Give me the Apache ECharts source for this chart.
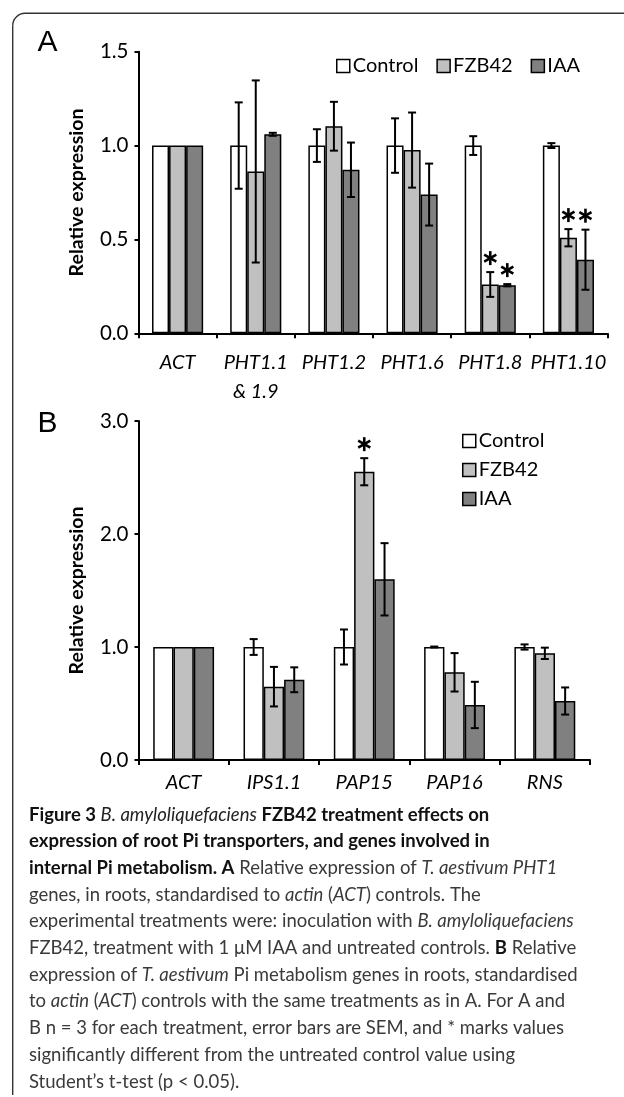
<!DOCTYPE html>
<html>
<head>
<meta charset="utf-8">
<script src="https://cdn.jsdelivr.net/npm/echarts@6/dist/echarts.min.js"></script>
<style>
html,body{margin:0;padding:0;background:#fff;}
#main{width:624px;height:1097px;}
</style>
</head>
<body>
<div id="main"></div>
<script>
// ---- Panel A data ----
const catsA = ['ACT', 'PHT1.1\n& 1.9', 'PHT1.2', 'PHT1.6', 'PHT1.8', 'PHT1.10'];
const ctrlA = [1, 1, 1, 1, 1, 1];
const fzbA  = [1, 0.862, 1.103, 0.976, 0.26, 0.509];
const iaaA  = [1, 1.06, 0.871, 0.739, 0.256, 0.392];
const ctrlErrA = [0, 0.23, 0.087, 0.145, 0.05, 0.013];
const fzbErrA  = [0, 0.485, 0.13, 0.2, 0.066, 0.046];
const iaaErrA  = [0, 0.008, 0.145, 0.165, 0.006, 0.16];
const sigA = [[4, 1], [4, 2], [5, 1], [5, 2]]; // [category, series]
const ticksA = [0, 1.5, 0.5];

// ---- Panel B data ----
const catsB = ['ACT', 'IPS1.1', 'PAP15', 'PAP16', 'RNS'];
const ctrlB = [1, 1, 1, 1, 1];
const fzbB  = [1, 0.649, 2.551, 0.776, 0.944];
const iaaB  = [1, 0.71, 1.599, 0.487, 0.522];
const ctrlErrB = [0, 0.07, 0.155, 0.004, 0.023];
const fzbErrB  = [0, 0.175, 0.12, 0.17, 0.05];
const iaaErrB  = [0, 0.11, 0.32, 0.205, 0.12];
const sigB = [[2, 1]];
const ticksB = [0, 3, 1];

const names = ['Control', 'FZB42', 'IAA'];
const colors = ['#ffffff', '#c0c0c0', '#808080'];

const FONT = 'Lato, "Open Sans", sans-serif';
const GAP_A = 0.346, GAP_B = 0.326;

function errRender(k, gapFrac) {
  return function (params, api) {
    const i = api.value(0), v = api.value(1), e = api.value(2);
    if (!e) return null;
    const catW = api.size([1, 0])[0];
    const w = catW * (1 - gapFrac) / 3;
    const x = api.coord([i, v])[0] + (k - 1) * w;
    const yT = api.coord([i, v + e])[1], yB = api.coord([i, v - e])[1];
    const cap = 4;
    const ls = { stroke: '#000', lineWidth: 2 };
    return { type: 'group', children: [
      { type: 'line', shape: { x1: x, y1: yT, x2: x, y2: yB }, style: ls },
      { type: 'line', shape: { x1: x - cap, y1: yT, x2: x + cap, y2: yT }, style: ls },
      { type: 'line', shape: { x1: x - cap, y1: yB, x2: x + cap, y2: yB }, style: ls }
    ]};
  };
}

function starRender(gapFrac) {
  return function (params, api) {
    const i = api.value(0), v = api.value(1), k = api.value(2);
    const catW = api.size([1, 0])[0];
    const w = catW * (1 - gapFrac) / 3;
    const c = api.coord([i, v]);
    const x = c[0] + (k - 1) * w, y = c[1] - 14;
    const r = 7;
    const ls = { stroke: '#000', lineWidth: 2.6 };
    const ch = [];
    [90, 30, -30].forEach(function (a) {
      const rad = a * Math.PI / 180;
      const dx = r * Math.cos(rad), dy = r * Math.sin(rad);
      ch.push({ type: 'line', shape: { x1: x - dx, y1: y - dy, x2: x + dx, y2: y + dy }, style: ls });
    });
    return { type: 'group', children: ch };
  };
}

function buildSeries(gi, vals, errs, sig, gapFrac) {
  const s = [];
  vals.forEach(function (arr, k) {
    s.push({
      type: 'bar', name: names[k], xAxisIndex: gi, yAxisIndex: gi, data: arr,
      barGap: '0%', barCategoryGap: (gapFrac * 100) + '%',
      itemStyle: { color: colors[k], borderColor: '#000', borderWidth: 1.5 },
      silent: true
    });
  });
  errs.forEach(function (arr, k) {
    s.push({
      type: 'custom', xAxisIndex: gi, yAxisIndex: gi, z: 5, silent: true,
      renderItem: errRender(k, gapFrac),
      encode: { x: 0, y: 1 },
      data: arr.map(function (e, i) { return [i, vals[k][i], e]; })
    });
  });
  s.push({
    type: 'custom', xAxisIndex: gi, yAxisIndex: gi, z: 6, silent: true,
    renderItem: starRender(gapFrac),
    encode: { x: 0, y: 1 },
    data: sig.map(function (p) { const i = p[0], k = p[1]; return [i, vals[k][i] + errs[k][i], k]; })
  });
  return s;
}

function xAxisCfg(gi, cats, margin) {
  return {
    type: 'category', gridIndex: gi, data: cats,
    axisLine: { show: true, lineStyle: { color: '#000', width: 2 } },
    axisTick: { show: true, length: 5, alignWithLabel: false, lineStyle: { color: '#000', width: 2 } },
    axisLabel: { interval: 0, fontStyle: 'italic', fontSize: 20, color: '#000', margin: margin, lineHeight: 29, fontFamily: FONT },
    splitLine: { show: false }
  };
}
function yAxisCfg(gi, t) {
  return {
    type: 'value', gridIndex: gi, min: t[0], max: t[1], interval: t[2],
    axisLine: { show: true, lineStyle: { color: '#000', width: 2 } },
    axisTick: { show: true, length: 4, lineStyle: { color: '#000', width: 2 } },
    axisLabel: { fontSize: 20.5, color: '#000', margin: 10, fontFamily: FONT, formatter: function (v) { return v.toFixed(1); } },
    splitLine: { show: false },
    name: 'Relative expression', nameLocation: 'middle', nameGap: 52,
    nameTextStyle: { fontSize: 19.5, fontWeight: 'bold', color: '#000', fontFamily: FONT }
  };
}

const capLines = [
  '{b|Figure 3 }{bi|B. amyloliquefaciens}{b| FZB42 treatment effects on}',
  '{b|expression of root Pi transporters, and genes involved in}',
  '{b|internal Pi metabolism. A}{n| Relative expression of }{i|T. aestivum PHT1}',
  '{n|genes, in roots, standardised to }{i|actin}{n| (}{i|ACT}{n|) controls. The}',
  '{n|experimental treatments were: inoculation with }{i|B. amyloliquefaciens}',
  '{n|FZB42, treatment with 1 μM IAA and untreated controls. }{b|B}{n| Relative}',
  '{n|expression of }{i|T. aestivum}{n| Pi metabolism genes in roots, standardised}',
  '{n|to }{i|actin}{n| (}{i|ACT}{n|) controls with the same treatments as in A. For A and}',
  '{n|B n = 3 for each treatment, error bars are SEM, and * marks values}',
  '{n|significantly different from the untreated control value using}',
  '{n|Student\u2019s t-test (p < 0.05).}'
];
const LH = 26.67, CFS = 18.5;
const rich = {
  b:  { fontFamily: FONT, fontSize: CFS, fontWeight: 'bold', color: '#111', lineHeight: LH },
  bi: { fontFamily: FONT, fontSize: CFS, fontWeight: 'normal', fontStyle: 'italic', color: '#222', lineHeight: LH },
  n:  { fontFamily: FONT, fontSize: CFS, fontWeight: 'normal', color: '#3a3a3a', lineHeight: LH },
  i:  { fontFamily: FONT, fontSize: CFS, fontWeight: 'normal', fontStyle: 'italic', color: '#3a3a3a', lineHeight: LH }
};

const chart = echarts.init(document.getElementById('main'), null, { renderer: 'canvas' });
chart.setOption({
  animation: false,
  backgroundColor: '#fff',
  textStyle: { fontFamily: FONT },
  grid: [
    { left: 138.5, top: 51.7, width: 469, height: 281.6 },
    { left: 138.5, top: 421, width: 451.5, height: 339 }
  ],
  xAxis: [xAxisCfg(0, catsA, 15), xAxisCfg(1, catsB, 8)],
  yAxis: [yAxisCfg(0, ticksA), yAxisCfg(1, ticksB)],
  legend: [
    { orient: 'horizontal', left: 331, top: 51, icon: 'rect', itemWidth: 13, itemHeight: 13, itemGap: 18,
      selectedMode: false, data: names,
      itemStyle: { borderColor: '#000', borderWidth: 1.5 },
      textStyle: { fontSize: 20, color: '#000', fontFamily: FONT, padding: [0, 0, 0, -2] } },
    { orient: 'vertical', left: 457, top: 426, icon: 'rect', itemWidth: 13, itemHeight: 13, itemGap: 9,
      selectedMode: false, data: names,
      itemStyle: { borderColor: '#000', borderWidth: 1.5 },
      textStyle: { fontSize: 20, color: '#000', fontFamily: FONT, padding: [0, 0, 0, -2] } }
  ],
  title: {
    text: capLines.join('\n'), left: 29, top: 801.5, padding: 0,
    textStyle: { rich: rich, lineHeight: LH, fontSize: CFS, fontWeight: 'normal' }
  },
  graphic: [
    { type: 'line', shape: { x1: 25, y1: 13.3, x2: 640, y2: 13.3 }, style: { stroke: '#333', lineWidth: 1.4 } },
    { type: 'line', shape: { x1: 12.7, y1: 25.6, x2: 12.7, y2: 1095 }, style: { stroke: '#333', lineWidth: 1.4 } },
    { type: 'arc', shape: { cx: 25, cy: 25.6, r: 12.3, startAngle: Math.PI, endAngle: Math.PI * 1.5, clockwise: true }, style: { stroke: '#333', lineWidth: 1.4, fill: null } },
    { type: 'text', x: 47.5, y: 43, style: { text: 'A', fontSize: 30, fontFamily: '"Liberation Sans", Arial, sans-serif', fill: '#000', align: 'center', verticalAlign: 'middle' } },
    { type: 'text', x: 47.5, y: 424, style: { text: 'B', fontSize: 30, fontFamily: '"Liberation Sans", Arial, sans-serif', fill: '#000', align: 'center', verticalAlign: 'middle' } }
  ],
  series: buildSeries(0, [ctrlA, fzbA, iaaA], [ctrlErrA, fzbErrA, iaaErrA], sigA, GAP_A)
    .concat(buildSeries(1, [ctrlB, fzbB, iaaB], [ctrlErrB, fzbErrB, iaaErrB], sigB, GAP_B))
});
</script>
</body>
</html>
